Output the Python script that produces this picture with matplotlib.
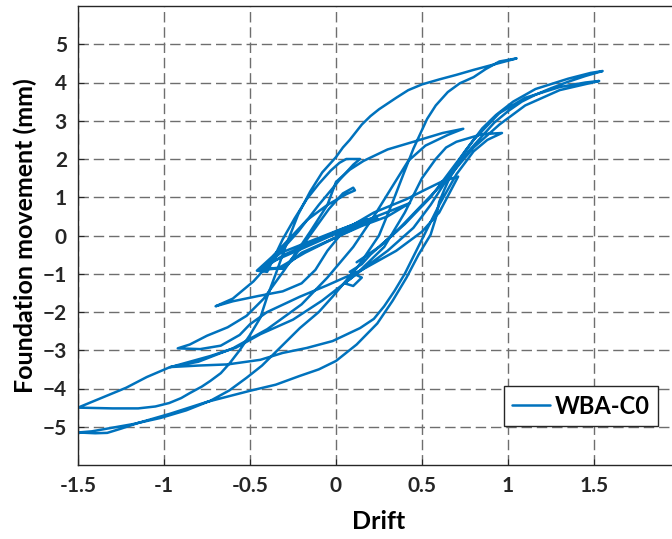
import numpy as np
import matplotlib
matplotlib.use("Agg")
import matplotlib.pyplot as plt

# Drift vs. foundation movement, recorded in successive loading stages
drift_s1 = [0.00, 0.10, 0.22, 0.15, 0.00, -0.15, -0.30, -0.42, -0.31, -0.20, 0.00, 0.12, 0.24, 0.18,
            0.02, -0.15, -0.32, -0.45, -0.33, -0.18, 0.00, 0.15, 0.30, 0.43, 0.32, 0.15, 0.00, -0.20,
            -0.38, -0.44]
move_s1 = [0.00, 0.20, 0.42, 0.38, 0.10, -0.20, -0.50, -0.85, -0.86, -0.45, -0.05, 0.22, 0.45, 0.42,
           0.15, -0.15, -0.45, -0.90, -0.84, -0.45, -0.05, 0.25, 0.50, 0.85, 0.65, 0.35, 0.05, -0.35,
           -0.70, -0.90]

drift_s2 = [-0.30, -0.20, -0.12, -0.04, 0.04, 0.10, 0.11, 0.06, -0.05, -0.17, -0.27, -0.37, -0.46]
move_s2 = [-0.85, -0.30, 0.20, 0.70, 1.10, 1.25, 1.18, 1.08, 0.80, 0.40, -0.08, -0.55, -0.92]

drift_s3 = [-0.40, -0.31, -0.24, -0.17, -0.10, -0.03, 0.02, 0.06, 0.14, 0.10, 0.02, -0.10, -0.22,
            -0.35, -0.48, -0.60, -0.70]
move_s3 = [-0.95, -0.10, 0.45, 0.95, 1.35, 1.70, 1.90, 2.00, 2.00, 1.85, 1.45, 0.80, 0.10,
           -0.55, -1.20, -1.65, -1.85]

drift_s4 = [-0.60, -0.45, -0.31, -0.20, -0.12, -0.05, 0.05, 0.22, 0.41, 0.52, 0.62, 0.71, 0.67,
            0.60, 0.50, 0.35, 0.15, -0.05, -0.21, -0.40, -0.50, -0.56, -0.67, -0.79, -0.92]
move_s4 = [-1.72, -1.58, -1.46, -1.25, -0.90, -0.40, 0.15, 0.60, 0.95, 1.20, 1.42, 1.54, 1.20,
           0.60, 0.10, -0.40, -0.90, -1.30, -1.60, -2.00, -2.32, -2.60, -2.88, -2.97, -2.95]

drift_s5 = [-0.85, -0.75, -0.63, -0.52, -0.42, -0.30, -0.15, -0.05, 0.00, 0.08, 0.16, 0.30, 0.45,
            0.62, 0.74, 0.65, 0.52, 0.42, 0.33, 0.22, 0.10, -0.05, -0.20, -0.40, -0.60, -0.80,
            -0.965]
move_s5 = [-2.85, -2.62, -2.40, -2.10, -1.65, -0.90, 0.10, 0.80, 1.40, 1.72, 1.95, 2.25, 2.45,
           2.68, 2.79, 2.63, 2.35, 1.95, 1.30, 0.50, -0.30, -1.10, -1.80, -2.45, -2.95, -3.30,
           -3.44]

drift_s6 = [-0.80, -0.63, -0.44, -0.31, -0.17, -0.02, 0.14, 0.22, 0.28, 0.34, 0.40, 0.50, 0.60,
            0.70, 0.80, 0.88, 0.965, 0.85, 0.70, 0.64, 0.58, 0.50, 0.40, 0.28, 0.12, -0.08, -0.25,
            -0.44, -0.58, -0.73, -0.85, -0.97, -1.10, -1.22, -1.35, -1.50]
move_s6 = [-3.40, -3.37, -3.25, -3.07, -2.94, -2.76, -2.42, -2.18, -1.85, -1.45, -1.00, -0.10, 0.80,
           1.60, 2.20, 2.50, 2.68, 2.65, 2.45, 2.30, 2.00, 1.50, 0.60, -0.30, -1.00, -1.70, -2.20,
           -2.58, -2.93, -3.15, -3.30, -3.45, -3.70, -3.98, -4.22, -4.50]

drift_s7 = [-1.30, -1.15, -1.05, -0.97, -0.90, -0.85, -0.78, -0.73, -0.67, -0.62, -0.56, -0.50,
            -0.44, -0.40, -0.35, -0.29, -0.22, -0.15, -0.08, 0.00, 0.04, 0.08, 0.15, 0.20, 0.25,
            0.35, 0.42, 0.50, 0.60, 0.70, 0.80, 0.90, 1.00, 1.05, 0.95, 0.87, 0.80, 0.72, 0.65,
            0.58, 0.53, 0.45, 0.39, 0.33, 0.25, 0.13, -0.02, -0.10, -0.21, -0.34, -0.43, -0.52,
            -0.62, -0.73, -0.87, -1.02, -1.18, -1.33, -1.42, -1.50]
move_s7 = [-4.52, -4.52, -4.47, -4.38, -4.25, -4.12, -3.95, -3.80, -3.60, -3.35, -3.00, -2.60,
           -2.15, -1.60, -1.00, -0.25, 0.55, 1.15, 1.65, 2.05, 2.30, 2.50, 2.90, 3.12, 3.30,
           3.60, 3.80, 3.95, 4.08, 4.20, 4.33, 4.45, 4.57, 4.63, 4.55, 4.35, 4.14, 3.98, 3.75,
           3.40, 3.05, 2.27, 1.58, 0.88, 0.00, -0.80, -1.60, -2.00, -2.42, -3.00, -3.40, -3.72,
           -4.05, -4.32, -4.57, -4.77, -4.93, -5.05, -5.12, -5.15]

drift_s8 = [-1.40, -1.33, -1.25, -1.15, -0.965, -0.75, -0.50, -0.35, -0.21, -0.10, 0.00, 0.12, 0.24,
            0.33, 0.41, 0.48, 0.55, 0.58, 0.60, 0.63, 0.66, 0.71, 0.77, 0.85, 0.92, 1.00, 1.08,
            1.16, 1.25, 1.35, 1.45, 1.55, 1.48, 1.35, 1.16, 1.03, 0.93, 0.85, 0.75, 0.65, 0.55,
            0.45, 0.30, 0.15, 0.05, 0.10, 0.15, 0.08, 0.15, 0.20, 0.35, 0.50, 0.65, 0.80, 0.95,
            1.10, 1.30, 1.53, 1.45, 1.30, 1.10, 0.95, 0.80, 0.70, 0.55, 0.40, 0.25, 0.12]
move_s8 = [-5.17, -5.16, -5.05, -4.90, -4.66, -4.35, -4.06, -3.90, -3.67, -3.50, -3.28, -2.85, -2.30,
           -1.70, -1.10, -0.50, 0.02, 0.45, 0.88, 1.20, 1.50, 1.85, 2.20, 2.60, 2.95, 3.25, 3.50,
           3.68, 3.85, 4.02, 4.17, 4.30, 4.25, 4.10, 3.83, 3.50, 3.15, 2.80, 2.20, 1.50, 0.80,
           0.20, -0.40, -0.90, -1.25, -1.32, -1.10, -0.95, -0.75, -0.50, 0.10, 0.80, 1.50, 2.30,
           2.90, 3.40, 3.80, 4.04, 4.00, 3.88, 3.60, 3.20, 2.50, 1.90, 1.00, 0.30, -0.30, -0.70]

x_ticks = [-1.5, -1, -0.5, 0, 0.5, 1, 1.5]
x_tick_labels = ["-1.5", "-1", "-0.5", "0", "0.5", "1", "1.5"]
y_ticks = [-5, -4, -3, -2, -1, 0, 1, 2, 3, 4, 5]

drift = np.concatenate([drift_s1, drift_s2, drift_s3, drift_s4, drift_s5, drift_s6, drift_s7, drift_s8])
movement = np.concatenate([move_s1, move_s2, move_s3, move_s4, move_s5, move_s6, move_s7, move_s8])

plt.rcParams["font.family"] = ["Lato", "DejaVu Sans"]
plt.rcParams["font.weight"] = "bold"

fig = plt.figure(figsize=(6.72, 5.39), dpi=100)
ax = fig.add_axes([78 / 672, 74 / 539, 602 / 672, 459 / 539])

line_color = "#0072BD"
ax.plot(drift, movement, color=line_color, lw=1.8, label="WBA-C0",
        solid_joinstyle="round", solid_capstyle="round")

ax.set_xlim(-1.5, 2.0)
ax.set_ylim(-6, 6)
ax.set_xticks(x_ticks)
ax.set_xticklabels(x_tick_labels)
ax.set_yticks(y_ticks)
ax.tick_params(direction="in", length=4, width=0.8, colors="#262626", labelsize=15, pad=8)
for lbl in ax.get_xticklabels() + ax.get_yticklabels():
    lbl.set_fontweight("bold")

ax.grid(True, color="#6e6e6e", lw=1.0, linestyle=(0, (7.5, 3.5)))
ax.set_axisbelow(True)
for s in ax.spines.values():
    s.set_color("#262626")
    s.set_linewidth(1.0)

ax.set_xlabel("Drift", fontsize=18, fontweight="bold", labelpad=10)
ax.set_ylabel("Foundation movement (mm)", fontsize=18, fontweight="bold", labelpad=4)

leg = ax.legend(loc="lower left", bbox_to_anchor=(0.708, 0.085), borderaxespad=0,
                fancybox=False, edgecolor="#262626", framealpha=1, prop={"size": 17, "weight": "bold"},
                handlelength=1.6, handletextpad=0.2, borderpad=0.35)
leg.get_frame().set_linewidth(1.0)

fig.savefig("out.png", dpi=100)
